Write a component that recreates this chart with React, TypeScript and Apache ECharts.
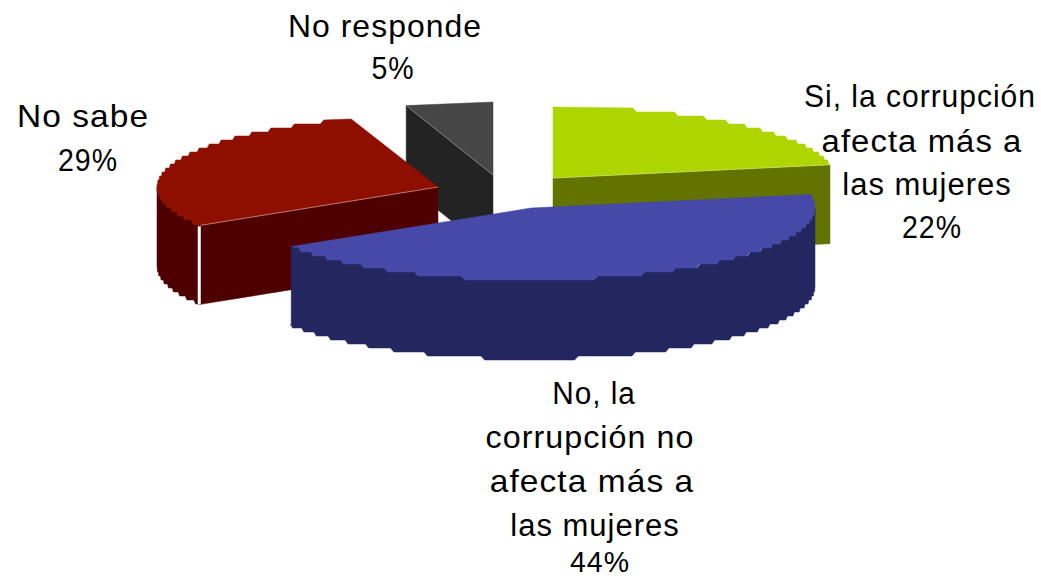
import React, { useEffect, useRef } from "react";
import * as echarts from "echarts";

const sliceNames = [
  "Si, la corrupción\nafecta más a\nlas mujeres",
  "No, la\ncorrupción no\nafecta más a\nlas mujeres",
  "No sabe",
  "No responde",
];
const sliceValues = [22, 44, 29, 5];
const topColors = ["#AED500", "#4649A8", "#8E0E00", "#464646"];
const wallColors = ["#627300", "#23265F", "#4E0000", "#232323"];
const edgeColors = ["#C9DD70", "#8A8CC8", "#C89088", "#8A8A8A"];

// exploded-pie layout (pixels): apex of each slice, radii of the ellipse
const centers = [[553, 178], [531, 208], [438, 187], [493, 175]];
const radiiX = [282, 284, 281, 281];
const radiiY = [71, 72, 71.5, 73];
const depth = 79;
const stepY = 4;
const drawOrder = [3, 4, 2, 1];
// label layout, one entry per text line (last line is the percentage)
const labelX = [[920, 922, 927, 932], [594, 590, 592, 595, 600], [83, 88], [385, 393]];
const labelY = [[96, 141, 184, 227], [393, 437, 481, 525, 562], [116, 160], [27, 68]];
const labelScale = [[0.97, 1.06, 1, 0.92], [0.96, 1.04, 1.08, 1, 0.95], [1.08, 0.92], [1.03, 0.92]];
const labelFont = [[31, 31, 31, 31], [31, 31, 31, 31, 30], [31, 31], [31, 31]];

const total = sliceValues.reduce((a, b) => a + b, 0);
const rad = (d: number) => (d * Math.PI) / 180;

function pointAt(i: number, deg: number, dy = 0): number[] {
  const [cx, cy] = centers[i];
  return [cx + radiiX[i] * Math.sin(rad(deg)), cy - radiiY[i] * Math.cos(rad(deg)) + dy];
}

// Ellipse arc in a coarse raster: runs of constant y, as in the low-resolution original
function steppedArc(i: number, a0: number, a1: number, dy = 0): number[][] {
  const n = Math.max(2, Math.ceil(Math.abs(a1 - a0) * 4));
  const pts: number[][] = [pointAt(i, a0, dy)];
  let level = Math.round(pts[0][1] / stepY);
  let last = pts[0];
  for (let k = 1; k < n; k++) {
    const p = pointAt(i, a0 + ((a1 - a0) * k) / n, dy);
    const l = Math.round(p[1] / stepY);
    if (l !== level) {
      pts.push([last[0], level * stepY]);
      pts.push([p[0] + (p[0] - last[0]) * 2, l * stepY]);
      level = l;
    }
    last = p;
  }
  pts.push(pointAt(i, a1, dy));
  return pts;
}

function renderSlice(params: any, api: any) {
  const i = params.dataIndex;
  let before = 0;
  for (let k = 0; k < i; k++) before += sliceValues[k];
  const a0 = (before / total) * 360;
  const a1 = a0 + (api.value(0) / total) * 360;
  const apex = centers[i];
  const z = drawOrder[i] * 10;
  const children: any[] = [];
  const poly = (points: number[][], fill: string, dz: number) =>
    children.push({ type: "polygon", z2: z + dz, shape: { points }, style: { fill, stroke: fill, lineWidth: 0.5 } });
  const radialWall = (deg: number) => {
    const e = pointAt(i, deg);
    poly([apex, e, [e[0], e[1] + depth], [apex[0], apex[1] + depth]], wallColors[i], 1);
    children.push({
      type: "line",
      z2: z + 5,
      shape: { x1: apex[0], y1: apex[1], x2: e[0], y2: e[1] },
      style: { stroke: edgeColors[i], lineWidth: 0.8 },
    });
  };
  if (Math.sin(rad(a0)) < -1e-6) radialWall(a0);
  if (Math.sin(rad(a1)) > 1e-6) radialWall(a1);

  const w0 = Math.max(a0, 90);
  const w1 = Math.min(a1, 270);
  if (w1 > w0) {
    const top = steppedArc(i, w0, w1);
    const bottom = steppedArc(i, w0, w1, depth).reverse();
    poly([...top, ...bottom], wallColors[i], 1);
    if (a0 >= 90 && a0 < 270 && Math.sin(rad(a0)) < 0) {
      const e = pointAt(i, a0);
      children.push({
        type: "line",
        z2: z + 2,
        shape: { x1: e[0] - 1.5, y1: e[1] + 1, x2: e[0] - 1.5, y2: e[1] + depth },
        style: { stroke: "#FFFFFF", lineWidth: 3 },
      });
    }
  }
  poly([apex, ...steppedArc(i, a0, a1)], topColors[i], 4);

  const lines = [...sliceNames[i].split("\n"), `${api.value(0)}%`];
  lines.forEach((line, k) => {
    children.push({
      type: "text",
      z2: 100,
      x: labelX[i][k],
      y: labelY[i][k],
      scaleX: labelScale[i][k],
      style: {
        text: line,
        fill: "#000000",
        font: `${labelFont[i][k]}px "Liberation Sans", Arial, sans-serif`,
        align: "center",
        verticalAlign: "middle",
      },
    });
  });
  return { type: "group", children };
}

export default function App() {
  const ref = useRef<HTMLDivElement>(null);
  useEffect(() => {
    document.body.style.margin = "0";
    const chart = echarts.init(ref.current!, undefined, { renderer: "svg" });
    chart.setOption({
      animation: false,
      backgroundColor: "#FFFFFF",
      series: [
        {
          type: "custom",
          coordinateSystem: "none",
          silent: true,
          clip: false,
          data: sliceValues.map((v, i) => ({ name: sliceNames[i], value: [v] })),
          renderItem: renderSlice,
        },
      ],
    });
    return () => chart.dispose();
  }, []);
  return <div ref={ref} style={{ width: 1041, height: 579, letterSpacing: "1px" }} />;
}
